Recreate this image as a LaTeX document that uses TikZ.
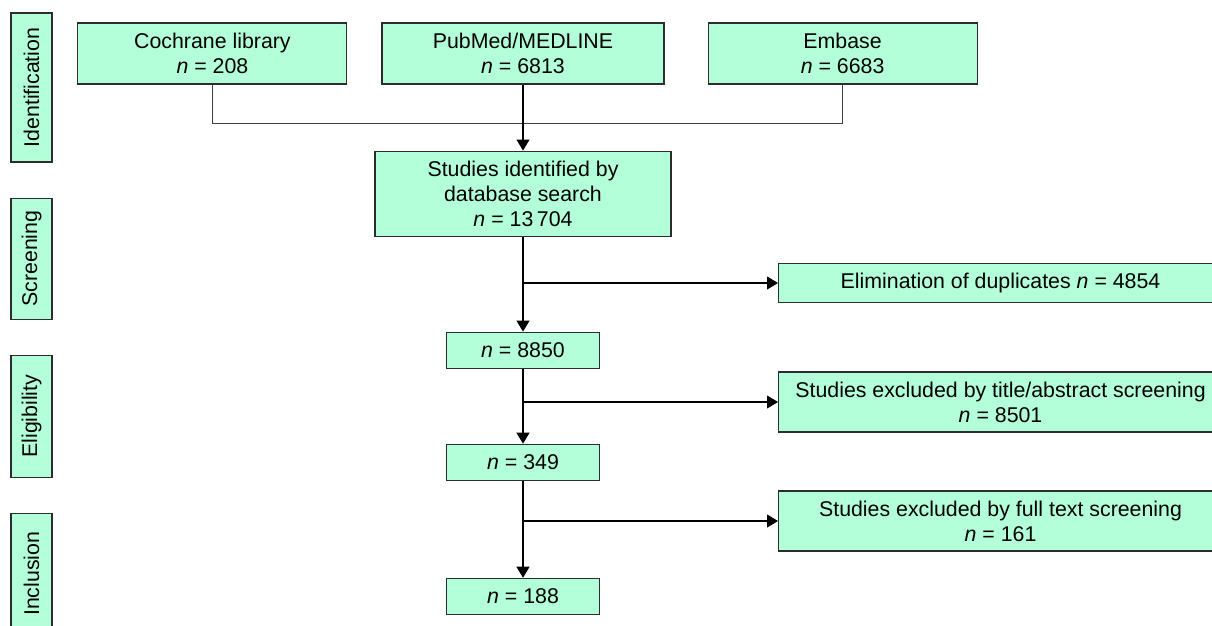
\documentclass[tikz,border=0pt]{standalone}
\usepackage{fontspec}
\setmainfont{Liberation Sans}
\usetikzlibrary{arrows.meta, positioning}

\definecolor{mint}{RGB}{179,255,217}
\definecolor{edge}{RGB}{45,45,45}

\begin{document}
\begin{tikzpicture}[
  x=0.75pt, y=-0.75pt,
  font=\fontsize{16}{18.75}\selectfont,
  box/.style={draw=edge, fill=mint, line width=0.8pt, align=center, inner sep=0pt},
  phase/.style={box, minimum width=30.75pt},
  source/.style={box, minimum width=201.75pt, minimum height=45.75pt},
  count/.style={box, minimum width=114.75pt, minimum height=27pt},
  excl/.style={box, anchor=west, minimum width=333pt, minimum height=45pt},
  link/.style={draw=black!75, line width=0.8pt},
  arrow/.style={-{Triangle[length=8.25pt, width=9.75pt]}, line width=0.8pt}
]
\useasboundingbox (0,0) rectangle (1212,625);

% phases
\node[phase, minimum height=111.75pt] (ident) at (31.5,87.5) {\rotatebox{90}{Identification}};
\node[phase, minimum height=90.75pt, below=26.25pt of ident] (screen) {\rotatebox{90}{Screening}};
\node[phase, minimum height=91.5pt, below=26.25pt of screen] (elig) {\rotatebox{90}{Eligibility}};
\node[phase, minimum height=90.75pt, below=26.25pt of elig] (incl) {\rotatebox{90}{Inclusion}};

% databases
\node[source, minimum width=211.5pt] (pub) at (523,53.5) {PubMed/MEDLINE\\\textit{n} = 6813};
\node[source, left=25.5pt of pub] (coch) {Cochrane library\\\textit{n} = 208};
\node[source, right=32.25pt of pub] (emb) {Embase\\\textit{n} = 6683};

% main flow
\node[box, minimum width=222pt, minimum height=63.75pt, below=49.5pt of pub] (found) {Studies identified by\\database search\\\textit{n} = 13\,704};
\node[count, below=71.25pt of found] (dedup) {\textit{n} = 8850};
\node[count, below=56.25pt of dedup] (screened) {\textit{n} = 349};
\node[count, below=72.75pt of screened] (included) {\textit{n} = 188};

% exclusions
\node[excl, minimum height=29.25pt] (dup) at (778,283) {Elimination of duplicates \textit{n} = 4854};
\node[excl] (title) at (778,402) {Studies excluded by title/abstract screening\\\textit{n} = 8501};
\node[excl] (full) at (778,521) {Studies excluded by full text screening\\\textit{n} = 161};

\coordinate (join) at ([yshift=-29.25pt]pub.south);
\draw[link] (coch.south) |- (join) -| (emb.south);
\draw[arrow] (pub) -- (found);
\draw[arrow] (found) -- (dedup);
\draw[arrow] (dedup) -- (screened);
\draw[arrow] (screened) -- (included);
\draw[arrow] (found.south |- dup) -- (dup);
\draw[arrow] (dedup.south |- title) -- (title);
\draw[arrow] (screened.south |- full) -- (full);
\end{tikzpicture}
\end{document}
